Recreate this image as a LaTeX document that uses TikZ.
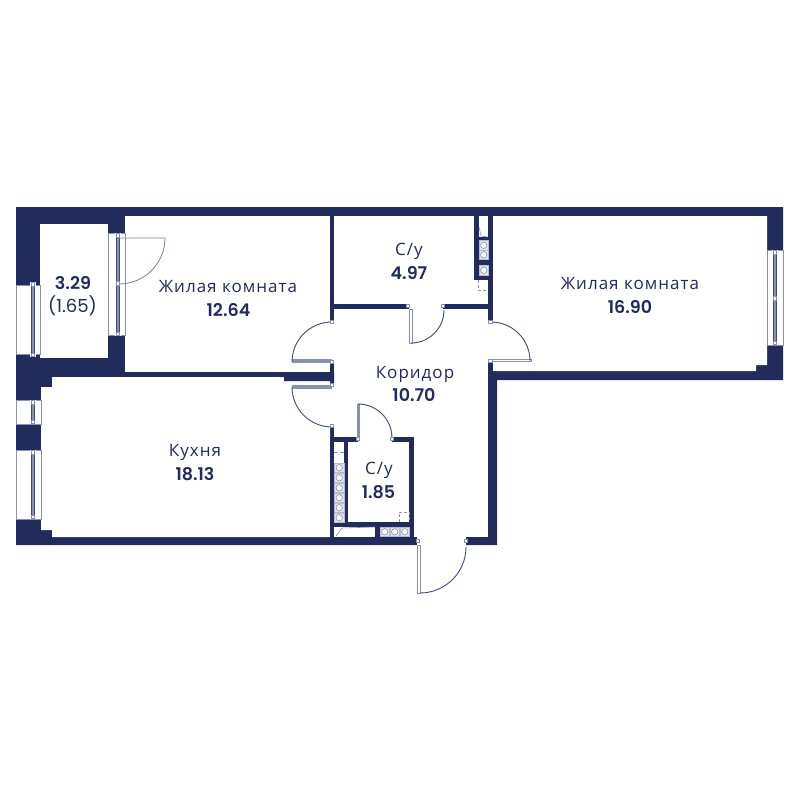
\documentclass[tikz,border=0pt]{standalone}
\usepackage{fontspec}
\setmainfont{Open Sans}[LetterSpace=6]
\newfontfamily\numfont{Poppins}[BoldFont={Poppins SemiBold}]
\definecolor{wall}{HTML}{212B5C}
\definecolor{soft}{HTML}{8A90B0}
\tikzset{
  wallfill/.style={fill=wall,draw=none},
  roomfill/.style={fill=white,draw=none},
  winglass/.style={fill=white,draw=soft,line width=0.7pt},
  sash/.style={fill=soft,draw=wall!70!soft,line width=0.5pt},
  lug/.style={fill=white,draw=soft,line width=0.7pt},
  swing/.style={draw=wall!85!white,line width=0.9pt},
  softswing/.style={draw=wall!60!white,line width=0.8pt},
  leaf/.style={fill=white,draw=soft,line width=1pt},
  solidleaf/.style={fill=soft,draw=none},
  inset/.style={fill=white,draw=none},
  vent/.style={fill=white,draw=soft,line width=0.6pt},
  duct/.style={fill=soft!25!white,draw=soft!60!white,line width=0.4pt},
  hatch/.style={draw=soft,line width=0.7pt,dash pattern=on 3pt off 2pt},
  roomname/.style={anchor=base,text=wall,font=\fontsize{17}{20}\selectfont,inner sep=0pt},
  roomarea/.style={anchor=base,text=wall,font=\numfont\fontsize{17.5}{20}\selectfont\bfseries,inner sep=0pt},
  roomextra/.style={anchor=base,text=wall,font=\numfont\fontsize{18}{20}\selectfont,inner sep=0pt}
}
\newcommand{\sashv}[3]{% x, y1, y2
  \fill[white] (#1-3,#2-2) rectangle (#1+3,#3+2);
  \path[sash] (#1-1.7,#2) rectangle (#1+1.7,#3);
  \path[lug] (#1-1.5,#2-1.5) rectangle (#1+1.5,#2+2);
  \path[lug] (#1-1.5,#3-2) rectangle (#1+1.5,#3+1.5);
}
\newcommand{\ductcell}[2]{% x1, y1: cell 9.5 wide and tall
  \path[duct] (#1,#2) rectangle ++(9.5,9.5);
  \path[vent] (#1,#2) ++(4.75,4.75) circle (3.2);
}
\begin{document}
\begin{tikzpicture}[x=1pt,y=-1pt]
\useasboundingbox (0,0) rectangle (800,800);
% shell
\path[wallfill] (16,207) -- (783,207) -- (783,380) -- (497,380) -- (497,545) -- (16,545) -- cycle;
% rooms
\path[roomfill] (40,223.5) rectangle (107.5,358);
\path[roomfill] (125,216) rectangle (330,372);
\path[roomfill] (52,377) -- (330,377) -- (330,537) -- (52,537) -- (52,530) -- (41,530) -- (41,387) -- (52,387) -- cycle;
\path[roomfill] (334,216) rectangle (488,304);
\path[roomfill] (334,309) rectangle (488,537);
\path[roomfill] (493,216) -- (767,216) -- (767,365) -- (756,365) -- (756,371) -- (493,371) -- cycle;
% door openings
\path[roomfill] (329,322) rectangle (335,362);
\path[roomfill] (329,385) rectangle (335,426);
\path[roomfill] (409,303) rectangle (443,310);
\path[roomfill] (487,322) rectangle (494,360);
\path[roomfill] (417,536) rectangle (466,546);
% wall stub between the two doors
\path[wallfill] (280,372) -- (334,372) -- (334,381) -- (284,381) -- (284,377) -- (280,377) -- cycle;
% shaft in upper bathroom
\path[wallfill] (474,216) rectangle (488,280);
\path[inset] (479,216) rectangle (488,237);
\draw[soft,line width=0.6pt] (479,227) -- (481,236) -- (488,237);
\ductcell{479}{240.5}
\ductcell{479}{250}
\ductcell{479}{265.5}
\draw[hatch] (478,280) -- (478,290) -- (488,290);
% lower bathroom block
\path[wallfill] (330,437) rectangle (414,537);
\path[roomfill] (348,442) rectangle (409,522);
\path[roomfill] (358,436) rectangle (392,443);
\path[inset] (334,442) rectangle (344,463);
\draw[soft,line width=0.6pt,dash pattern=on 4pt off 2pt] (334,452) -- (344,452);
\foreach \yy in {463,473,483,493,503,513}{\ductcell{334.5}{\yy}}
\path[inset] (334,527) rectangle (375,537);
\draw[soft,line width=0.6pt] (336,536) -- (342,528) -- (375,527);
\foreach \xx in {380,390,400}{\ductcell{\xx}{527}}
\draw[hatch] (399,522) -- (399,512) -- (409,512) -- (409,522);
% windows
\path[winglass] (16,285) rectangle (40,354);
\path[winglass] (108,233) rectangle (125,335);
\path[winglass] (16,400) rectangle (41,424);
\path[winglass] (16,450) rectangle (41,519);
\path[winglass] (767,250) rectangle (783,345);
\sashv{33}{284}{355}
\sashv{117.5}{235}{334}
\path[lug] (116,281) rectangle (119,285);
\sashv{32.5}{402}{422}
\sashv{32.5}{452}{517}
\sashv{775}{252}{343}
\path[lug] (773.5,296) rectangle (776.5,300);
% doors
\draw[softswing] (118,238) -- (165,238) arc[start angle=0,end angle=90,radius=46];
\path[solidleaf] (292,359) rectangle (332,363);
\draw[swing] (332,322) arc[start angle=-90,end angle=-180,radius=40];
\path[solidleaf] (292,385) rectangle (332,389);
\draw[swing] (292,387) arc[start angle=180,end angle=90,radius=40];
\path[leaf] (409,309) rectangle (412,343);
\draw[swing] (411,343) arc[start angle=90,end angle=0,radius=33];
\path[solidleaf] (356.5,404) rectangle (360,438);
\draw[swing] (358,404) arc[start angle=-90,end angle=0,radius=34];
\path[leaf] (491,359) rectangle (531,361);
\draw[swing] (491,322) arc[start angle=-90,end angle=0,radius=39];
\path[leaf] (417.5,545) rectangle (420,593);
\draw[swing] (420,593) arc[start angle=90,end angle=0,radius=46];
% hinge lugs
\foreach \hx/\hy in {332/322,332/362,332/385,332/426,408/306,443/306,358/439,392/439,490.5/322,490.5/361,418/541,466/541}{
  \path[lug] (\hx-1.7,\hy-1.7) rectangle (\hx+1.7,\hy+1.7);
}
% labels
\node[roomarea] (balconyarea) at (73,289) {3.29};
\node[roomextra] (balconyextra) at (72.5,312) {(1.65)};
\node[roomname] (room1name) at (228,292) {Жилая комната};
\node[roomarea] (room1area) at (228.5,316) {12.64};
\node[roomname] (wc1name) at (409,255) {С/у};
\node[roomarea] (wc1area) at (409,279) {4.97};
\node[roomname] (room2name) at (630,289) {Жилая комната};
\node[roomarea] (room2area) at (630,313) {16.90};
\node[roomname] (corrname) at (415,378) {Коридор};
\node[roomarea] (corrarea) at (414,401) {10.70};
\node[roomname] (kitchenname) at (195,456) {Кухня};
\node[roomarea] (kitchenarea) at (195,480) {18.13};
\node[roomname] (wc2name) at (379,474) {С/у};
\node[roomarea] (wc2area) at (378.5,498) {1.85};
\end{tikzpicture}
\end{document}
